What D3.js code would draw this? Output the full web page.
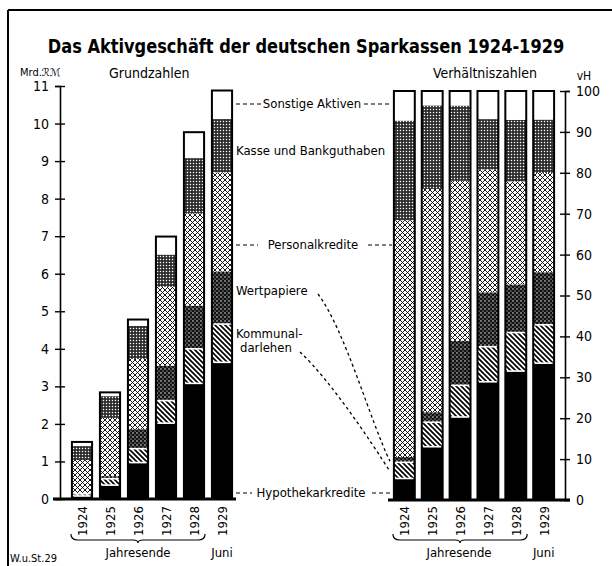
<!DOCTYPE html>
<html>
<head>
<meta charset="utf-8">
<script src="https://cdn.jsdelivr.net/npm/d3@7"></script>
<style>
  body { margin: 0; background: #fff; }
  svg text { font-family: "DejaVu Sans Condensed", "Liberation Sans Narrow", sans-serif; fill: #000; }
</style>
</head>
<body>
<svg id="chart" width="612" height="566"></svg>
<script>
// Mrd. RM, bottom to top
const years = ["1924", "1925", "1926", "1927", "1928", "1929"];
const hypothekarkredite = [0.08, 0.37, 0.97, 2.02, 3.08, 3.64];
const kommunaldarlehen = [0.06, 0.17, 0.37, 0.60, 0.92, 1.02];
const wertpapiere = [0.02, 0.07, 0.52, 0.93, 1.15, 1.40];
const personalkredite = [0.88, 1.55, 1.87, 2.10, 2.46, 2.64];
const kasseBank = [0.37, 0.58, 0.88, 0.86, 1.47, 1.42];
const sonstigeAktiven = [0.11, 0.10, 0.17, 0.48, 0.69, 0.76];
const leftTicks = [0, 1, 2, 3, 4, 5, 6, 7, 8, 9, 10, 11];
const rightTicks = [0, 10, 20, 30, 40, 50, 60, 70, 80, 90, 100];

const keys = ["hypo", "komm", "wert", "pers", "kasse", "sonst"];
const rows = years.map((y, i) => ({
  year: y,
  hypo: hypothekarkredite[i],
  komm: kommunaldarlehen[i],
  wert: wertpapiere[i],
  pers: personalkredite[i],
  kasse: kasseBank[i],
  sonst: sonstigeAktiven[i],
}));

const svg = d3.select("#chart");

// fill patterns for the layers
const defs = svg.append("defs");
const komm = defs.append("pattern").attr("id", "p-komm")
  .attr("patternUnits", "userSpaceOnUse").attr("width", 5).attr("height", 5);
komm.append("rect").attr("width", 5).attr("height", 5).attr("fill", "#fff");
komm.append("path").attr("d", "M0,0L5,5M-1,4L1,6M4,-1L6,1")
  .attr("stroke", "#000").attr("stroke-width", 1.7);

const wert = defs.append("pattern").attr("id", "p-wert")
  .attr("patternUnits", "userSpaceOnUse").attr("width", 4).attr("height", 4);
wert.append("rect").attr("width", 4).attr("height", 4).attr("fill", "#111");
wert.append("circle").attr("cx", 1).attr("cy", 1).attr("r", 0.75).attr("fill", "#fff");
wert.append("circle").attr("cx", 3).attr("cy", 3).attr("r", 0.6).attr("fill", "#fff");

const pers = defs.append("pattern").attr("id", "p-pers")
  .attr("patternUnits", "userSpaceOnUse").attr("width", 5).attr("height", 5);
pers.append("rect").attr("width", 5).attr("height", 5).attr("fill", "#fff");
pers.append("path").attr("d", "M0,0L5,5M-1,4L1,6M4,-1L6,1M0,5L5,0M-1,1L1,-1M4,6L6,4")
  .attr("stroke", "#000").attr("stroke-width", 0.9);

const kasse = defs.append("pattern").attr("id", "p-kasse")
  .attr("patternUnits", "userSpaceOnUse").attr("width", 3).attr("height", 3);
kasse.append("rect").attr("width", 3).attr("height", 3).attr("fill", "#222");
kasse.append("rect").attr("x", 0.8).attr("y", 0.8).attr("width", 1.4).attr("height", 1.4).attr("fill", "#fff");

const fills = {
  hypo: "#000",
  komm: "url(#p-komm)",
  wert: "url(#p-wert)",
  pers: "url(#p-pers)",
  kasse: "url(#p-kasse)",
  sonst: "#fff",
};

// frame
svg.append("line").attr("x1", 8).attr("x2", 612).attr("y1", 10).attr("y2", 10)
  .attr("stroke", "#000").attr("stroke-width", 2);
svg.append("line").attr("x1", 8).attr("x2", 8).attr("y1", 10).attr("y2", 566)
  .attr("stroke", "#000").attr("stroke-width", 2);

// titles
svg.append("text").attr("transform", "translate(306,53) scale(0.9,1)")
  .attr("text-anchor", "middle")
  .attr("font-size", 20).attr("font-weight", "bold")
  .text("Das Aktivgeschäft der deutschen Sparkassen 1924-1929");
svg.append("text").attr("x", 20).attr("y", 76).attr("font-size", 11).text("Mrd.ℛℳ");
svg.append("text").attr("x", 109).attr("y", 78).attr("font-size", 14).text("Grundzahlen");
svg.append("text").attr("x", 433).attr("y", 78).attr("font-size", 14).text("Verhältniszahlen");
svg.append("text").attr("x", 584).attr("y", 80).attr("text-anchor", "middle")
  .attr("font-size", 12).text("vH");

// scales
const xL = d3.scaleBand().domain(years).range([68, 236]).paddingInner(0.28).paddingOuter(0.14);
const yL = d3.scaleLinear().domain([0, 11]).range([499, 86]);
const xR = d3.scaleBand().domain(years).range([390, 558]).paddingInner(0.25).paddingOuter(0.14);
const yR = d3.scaleLinear().domain([0, 1]).range([500, 91]);

const stackAbs = d3.stack().keys(keys)(rows);
const stackRel = d3.stack().keys(keys).offset(d3.stackOffsetExpand)(rows);

const drawBars = (series, x, y) => {
  const g = svg.append("g");
  g.selectAll("g.layer")
    .data(series)
    .join("g")
    .attr("class", "layer")
    .attr("fill", (d) => fills[d.key])
    .selectAll("rect")
    .data((d) => d)
    .join("rect")
    .attr("x", (d) => x(d.data.year))
    .attr("width", x.bandwidth())
    .attr("y", (d) => y(d[1]))
    .attr("height", (d) => y(d[0]) - y(d[1]));

  // white separators above Hypothekarkredite and Kommunaldarlehen
  series.slice(0, 2).forEach((s) => {
    g.selectAll(null)
      .data(s)
      .join("line")
      .attr("x1", (d) => x(d.data.year) + 1.5)
      .attr("x2", (d) => x(d.data.year) + x.bandwidth() - 1.5)
      .attr("y1", (d) => y(d[1]))
      .attr("y2", (d) => y(d[1]))
      .attr("stroke", "#fff")
      .attr("stroke-width", 1.6);
  });

  // outline of whole bar
  const top = series[series.length - 1];
  g.selectAll(null)
    .data(top)
    .join("rect")
    .attr("x", (d) => x(d.data.year))
    .attr("width", x.bandwidth())
    .attr("y", (d) => y(d[1]))
    .attr("height", (d) => y(0) - y(d[1]))
    .attr("fill", "none")
    .attr("stroke", "#000")
    .attr("stroke-width", 2);
};

drawBars(stackAbs, xL, yL);
drawBars(stackRel, xR, yR);

// left axis
const axL = svg.append("g").attr("transform", "translate(60,0)")
  .call(d3.axisLeft(yL).tickValues(leftTicks).tickSizeOuter(0).tickSize(5).tickPadding(6));
axL.select(".domain").attr("stroke-width", 1.6);
axL.selectAll(".tick line").attr("x1", -5).attr("x2", 5).attr("stroke-width", 1.4);
axL.selectAll(".tick text").attr("font-size", 14)
  .style("font-family", "DejaVu Sans Condensed, sans-serif");

// right axis
const axR = svg.append("g").attr("transform", "translate(565,0)")
  .call(d3.axisRight(yR).tickValues(rightTicks.map((t) => t / 100))
    .tickFormat((d) => Math.round(d * 100)).tickSizeOuter(0).tickSize(5).tickPadding(6));
axR.select(".domain").attr("stroke-width", 1.6);
axR.selectAll(".tick line").attr("x1", -5).attr("x2", 5).attr("stroke-width", 1.4);
axR.selectAll(".tick text").attr("font-size", 14)
  .style("font-family", "DejaVu Sans Condensed, sans-serif");

// baselines
svg.append("line").attr("x1", 53).attr("x2", 236).attr("y1", yL(0)).attr("y2", yL(0))
  .attr("stroke", "#000").attr("stroke-width", 3);
svg.append("line").attr("x1", 388).attr("x2", 570).attr("y1", yR(0)).attr("y2", yR(0))
  .attr("stroke", "#000").attr("stroke-width", 3);

// year labels
const yearLabels = (x) => {
  svg.append("g").selectAll("text")
    .data(years)
    .join("text")
    .attr("transform", (d) => `translate(${x(d) + x.bandwidth() / 2 + 5},521) rotate(-90)`)
    .attr("text-anchor", "middle")
    .attr("font-size", 13)
    .text((d) => d);
};
yearLabels(xL);
yearLabels(xR);

// braces and period labels
const brace = (x0, x1, yb) => {
  const m = (x0 + x1) / 2;
  svg.append("path")
    .attr("d", `M${x0},${yb - 6}Q${x0},${yb} ${x0 + 7},${yb}L${m - 5},${yb}Q${m},${yb} ${m},${yb + 3}` +
      `Q${m},${yb} ${m + 5},${yb}L${x1 - 7},${yb}Q${x1},${yb} ${x1},${yb - 6}`)
    .attr("fill", "none").attr("stroke", "#000").attr("stroke-width", 1.2);
};
brace(xL("1924") - 1, xL("1928") + xL.bandwidth() + 1, 540);
brace(xR("1924") - 1, xR("1928") + xR.bandwidth() + 1, 540);
[[xL, 138], [xR, 459]].forEach(([x, cx]) => {
  svg.append("text").attr("x", cx).attr("y", 557).attr("text-anchor", "middle")
    .attr("font-size", 13).text("Jahresende");
  svg.append("text").attr("x", x("1929") + x.bandwidth() / 2).attr("y", 557)
    .attr("text-anchor", "middle").attr("font-size", 13).text("Juni");
});
svg.append("text").attr("x", 10).attr("y", 562).attr("font-size", 11).text("W.u.St.29");

// layer labels between the two charts
const dash = (x1, x2, y) => {
  svg.append("line").attr("x1", x1).attr("x2", x2).attr("y1", y).attr("y2", y)
    .attr("stroke", "#000").attr("stroke-width", 1.2).attr("stroke-dasharray", "4,3");
};
const label = (txt, x, y, anchor) => {
  svg.append("text").attr("x", x).attr("y", y).attr("text-anchor", anchor || "start")
    .attr("font-size", 13).text(txt);
};
label("Sonstige Aktiven", 312, 108, "middle");
dash(236, 261, 104); dash(364, 392, 104);
label("Kasse und Bankguthaben", 236, 155);
label("Personalkredite", 313, 249, "middle");
dash(236, 258, 245); dash(368, 392, 245);
label("Wertpapiere", 236, 295);
label("Kommunal-", 236, 338);
label("darlehen", 240, 352);
label("Hypothekarkredite", 311, 497, "middle");
dash(236, 252, 493); dash(372, 392, 493);

// leaders to the thin 1924 segments
const leader = (d) => {
  svg.append("path").attr("d", d).attr("fill", "none")
    .attr("stroke", "#000").attr("stroke-width", 1.3).attr("stroke-dasharray", "3,3");
};
const lx = xR("1924") - 4;
leader(`M318,294C345,330 370,420 ${lx},${yR(0.095)}`);
leader(`M300,352C330,380 370,440 ${lx},${yR(0.07)}`);
</script>
</body>
</html>
